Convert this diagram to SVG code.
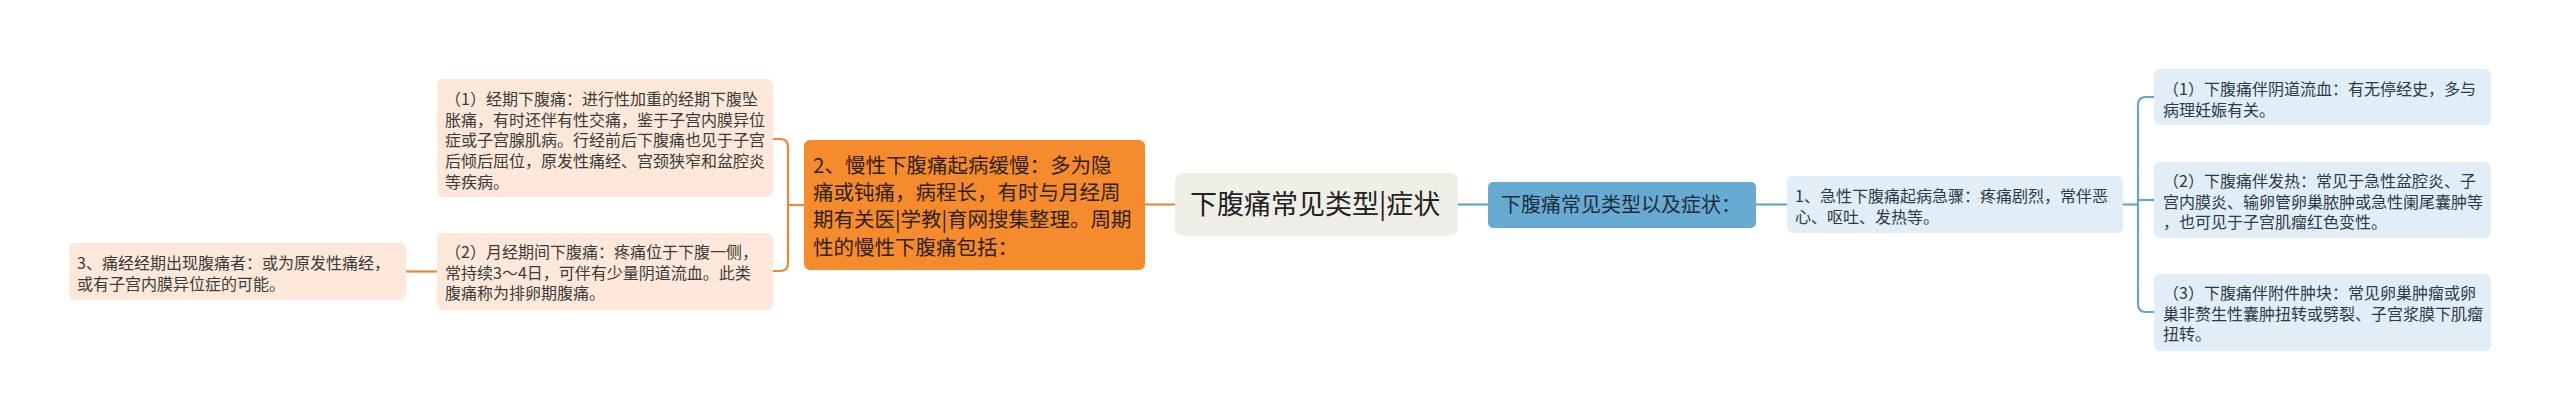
<svg xmlns="http://www.w3.org/2000/svg" width="2560" height="420" viewBox="0 0 2560 420">
<style>
text{font-family:"Noto Sans CJK SC","Noto Sans",sans-serif;}
.t16{font-size:16px;}
.lo{fill:#fde8d9;}
.lb{fill:#e2eef7;}
.to{fill:#3b3b3b;}
.tb{fill:#2a3a48;}
.co{fill:none;stroke:#e8883a;stroke-width:2.2;}
.cb{fill:none;stroke:#6aa4c6;stroke-width:2.2;}
</style>
<rect x="0" y="0" width="2560" height="420" fill="#ffffff"/>
<g id="connectors">
<path class="co" d="M1175 204.5 H1145"/>
<path class="co" d="M804 205 H788"/>
<path class="co" d="M773 139 H780 Q788 139 788 147 V263 Q788 271 780 271 H773"/>
<path class="co" d="M406 271.5 H437"/>
<path class="cb" d="M1458 204.5 H1488"/>
<path class="cb" d="M1756 204.5 H1787"/>
<path class="cb" d="M2123 204.5 H2138"/>
<path class="cb" d="M2154 97 H2146 Q2138 97 2138 105 V304 Q2138 312 2146 312 H2154"/>
<path class="cb" d="M2138 200 H2154"/>
</g>
<g id="central">
<rect x="1175" y="173" width="283" height="63" rx="8" fill="#efefe8"/>
<text x="1190" y="214" font-size="27" fill="#222222">下腹痛常见类型|症状</text>
</g>
<g id="chronic">
<rect x="804" y="140" width="341" height="130" rx="6" fill="#f68b2d"/>
<text font-size="20.5" fill="#2e2214">
<tspan x="813" y="172.5">2、慢性下腹痛起病缓慢：多为隐</tspan>
<tspan x="813" y="200">痛或钝痛，病程长，有时与月经周</tspan>
<tspan x="813" y="227.3">期有关医|学教|育网搜集整理。周期</tspan>
<tspan x="813" y="254.6">性的慢性下腹痛包括：</tspan>
</text>
</g>
<g id="menstrual">
<rect class="lo" x="437" y="79" width="336" height="118" rx="6"/>
<text class="t16 to">
<tspan x="445" y="105">（1）经期下腹痛：进行性加重的经期下腹坠</tspan>
<tspan x="445" y="125.7">胀痛，有时还伴有性交痛，鉴于子宫内膜异位</tspan>
<tspan x="445" y="146.4">症或子宫腺肌病。行经前后下腹痛也见于子宫</tspan>
<tspan x="445" y="167.1">后倾后屈位，原发性痛经、宫颈狭窄和盆腔炎</tspan>
<tspan x="445" y="187.8">等疾病。</tspan>
</text>
</g>
<g id="intermenstrual">
<rect class="lo" x="437" y="233" width="336" height="77" rx="6"/>
<text class="t16 to">
<tspan x="445" y="258">（2）月经期间下腹痛：疼痛位于下腹一侧，</tspan>
<tspan x="445" y="278.5">常持续3～4日，可伴有少量阴道流血。此类</tspan>
<tspan x="445" y="299">腹痛称为排卵期腹痛。</tspan>
</text>
</g>
<g id="dysmenorrhea">
<rect class="lo" x="69" y="243" width="337" height="57" rx="6"/>
<text class="t16 to">
<tspan x="77" y="269">3、痛经经期出现腹痛者：或为原发性痛经，</tspan>
<tspan x="77" y="289.5">或有子宫内膜异位症的可能。</tspan>
</text>
</g>
<g id="types">
<rect x="1488" y="182" width="268" height="46" rx="5" fill="#68abd2"/>
<text x="1501" y="212" font-size="20" fill="#1e2d3a">下腹痛常见类型以及症状：</text>
</g>
<g id="acute">
<rect class="lb" x="1787" y="176" width="336" height="57" rx="6"/>
<text class="t16 tb">
<tspan x="1795" y="202">1、急性下腹痛起病急骤：疼痛剧烈，常伴恶</tspan>
<tspan x="1795" y="222.5">心、呕吐、发热等。</tspan>
</text>
</g>
<g id="bleeding">
<rect class="lb" x="2154" y="69" width="337" height="56" rx="6"/>
<text class="t16 tb">
<tspan x="2163" y="95">（1）下腹痛伴阴道流血：有无停经史，多与</tspan>
<tspan x="2163" y="115.5">病理妊娠有关。</tspan>
</text>
</g>
<g id="fever">
<rect class="lb" x="2154" y="162" width="337" height="76" rx="6"/>
<text class="t16 tb">
<tspan x="2163" y="187">（2）下腹痛伴发热：常见于急性盆腔炎、子</tspan>
<tspan x="2163" y="207.5">宫内膜炎、输卵管卵巢脓肿或急性阑尾囊肿等</tspan>
<tspan x="2163" y="228">，也可见于子宫肌瘤红色变性。</tspan>
</text>
</g>
<g id="mass">
<rect class="lb" x="2154" y="274" width="337" height="77" rx="6"/>
<text class="t16 tb">
<tspan x="2163" y="299">（3）下腹痛伴附件肿块：常见卵巢肿瘤或卵</tspan>
<tspan x="2163" y="319.5">巢非赘生性囊肿扭转或劈裂、子宫浆膜下肌瘤</tspan>
<tspan x="2163" y="340">扭转。</tspan>
</text>
</g>
</svg>
